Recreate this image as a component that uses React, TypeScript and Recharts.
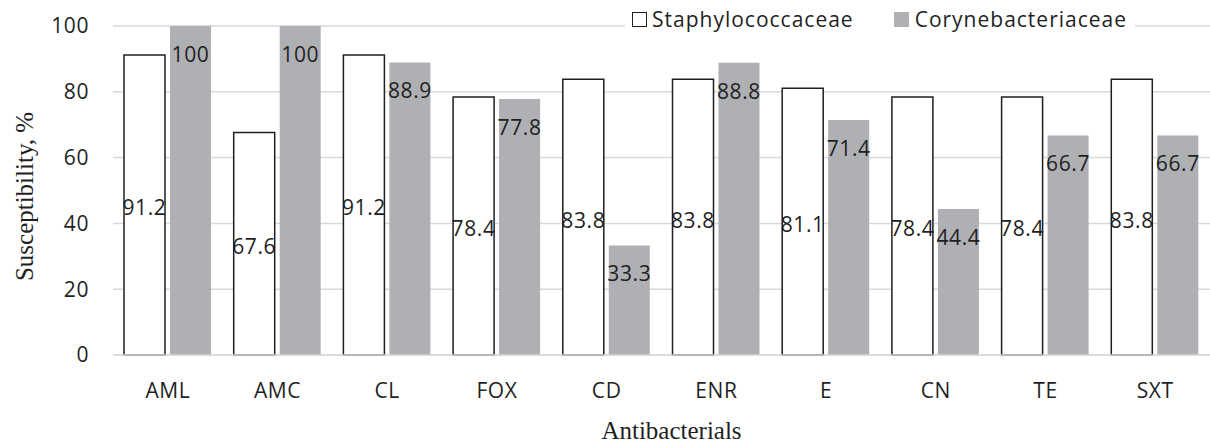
import React from 'react';
import { BarChart, Bar, XAxis, YAxis, CartesianGrid, LabelList, Legend } from 'recharts';

// values
const categories = ['AML', 'AMC', 'CL', 'FOX', 'CD', 'ENR', 'E', 'CN', 'TE', 'SXT'];
const staphValues = [91.2, 67.6, 91.2, 78.4, 83.8, 83.8, 81.1, 78.4, 78.4, 83.8];
const coryneValues = [100, 100, 88.9, 77.8, 33.3, 88.8, 71.4, 44.4, 66.7, 66.7];
const yTicks = [0, 20, 40, 60, 80, 100];

const data = categories.map((name, i) => ({
  name,
  staph: staphValues[i],
  coryne: coryneValues[i],
}));

const SANS = '"Open Sans", sans-serif';
const SERIF = '"Liberation Serif", "Times New Roman", serif';
const GREY = '#afb0b4';
const INK = '#1f1f1f';

const renderLegend = () => (
  <div
    style={{
      display: 'flex',
      alignItems: 'center',
      background: '#fff',
      height: 28,
      paddingLeft: 7,
      paddingRight: 8,
      fontFamily: SANS,
      fontSize: 21,
      letterSpacing: 1,
      color: INK,
    }}
  >
    <span style={{ width: 15, height: 15, border: `1.5px solid ${INK}`, boxSizing: 'border-box', background: '#fff', marginRight: 5 }} />
    <span>Staphylococcaceae</span>
    <span style={{ width: 15, height: 15, background: GREY, marginLeft: 40, marginRight: 6 }} />
    <span>Corynebacteriaceae</span>
  </div>
);

export default function App() {
  return (
    <div style={{ position: 'absolute', left: 0, top: 0, width: 1210, height: 448, background: '#fff' }}>
      <BarChart
        width={1210}
        height={448}
        data={data}
        margin={{ top: 26, right: 0, left: 0, bottom: 0 }}
        barCategoryGap={11}
        barGap={5}
      >
        <CartesianGrid vertical={false} stroke="#d9d9d9" strokeWidth={1.5} />
        <XAxis
          dataKey="name"
          height={93}
          stroke="#d9d9d9"
          strokeWidth={1.5}
          tickLine={false}
          tickSize={0}
          tickMargin={28}
          tick={{ fontSize: 21, fill: INK, fontFamily: SANS, letterSpacing: 0.6 }}
          label={{ value: 'Antibacterials', position: 'insideBottom', offset: 9, dx: 10, style: { fontFamily: SERIF, fontSize: 25, fill: INK } }}
        />
        <YAxis
          width={113}
          domain={[0, 100]}
          ticks={yTicks}
          axisLine={false}
          tickLine={false}
          tickSize={0}
          tickMargin={24}
          tick={{ fontSize: 21, fill: INK, fontFamily: SANS, letterSpacing: 0.6 }}
          label={{ value: 'Susceptibility, %', angle: -90, position: 'insideLeft', offset: 24, dy: 6, style: { textAnchor: 'middle', fontFamily: SERIF, fontSize: 25, fill: INK } }}
        />
        <Legend
          layout="vertical"
          align="center"
          verticalAlign="middle"
          content={renderLegend}
          wrapperStyle={{ top: 5, left: 625, width: 'auto' }}
        />
        <Bar dataKey="staph" name="Staphylococcaceae" fill="#fff" stroke={INK} strokeWidth={1.5} isAnimationActive={false}>
          <LabelList dataKey="staph" position="center" dy={3} style={{ fontSize: 21, fill: INK, fontFamily: SANS, letterSpacing: 0.6 }} />
        </Bar>
        <Bar dataKey="coryne" name="Corynebacteriaceae" fill={GREY} isAnimationActive={false}>
          <LabelList dataKey="coryne" position="insideTop" offset={21} style={{ fontSize: 21, fill: INK, fontFamily: SANS, letterSpacing: 0.6 }} />
        </Bar>
      </BarChart>
    </div>
  );
}
